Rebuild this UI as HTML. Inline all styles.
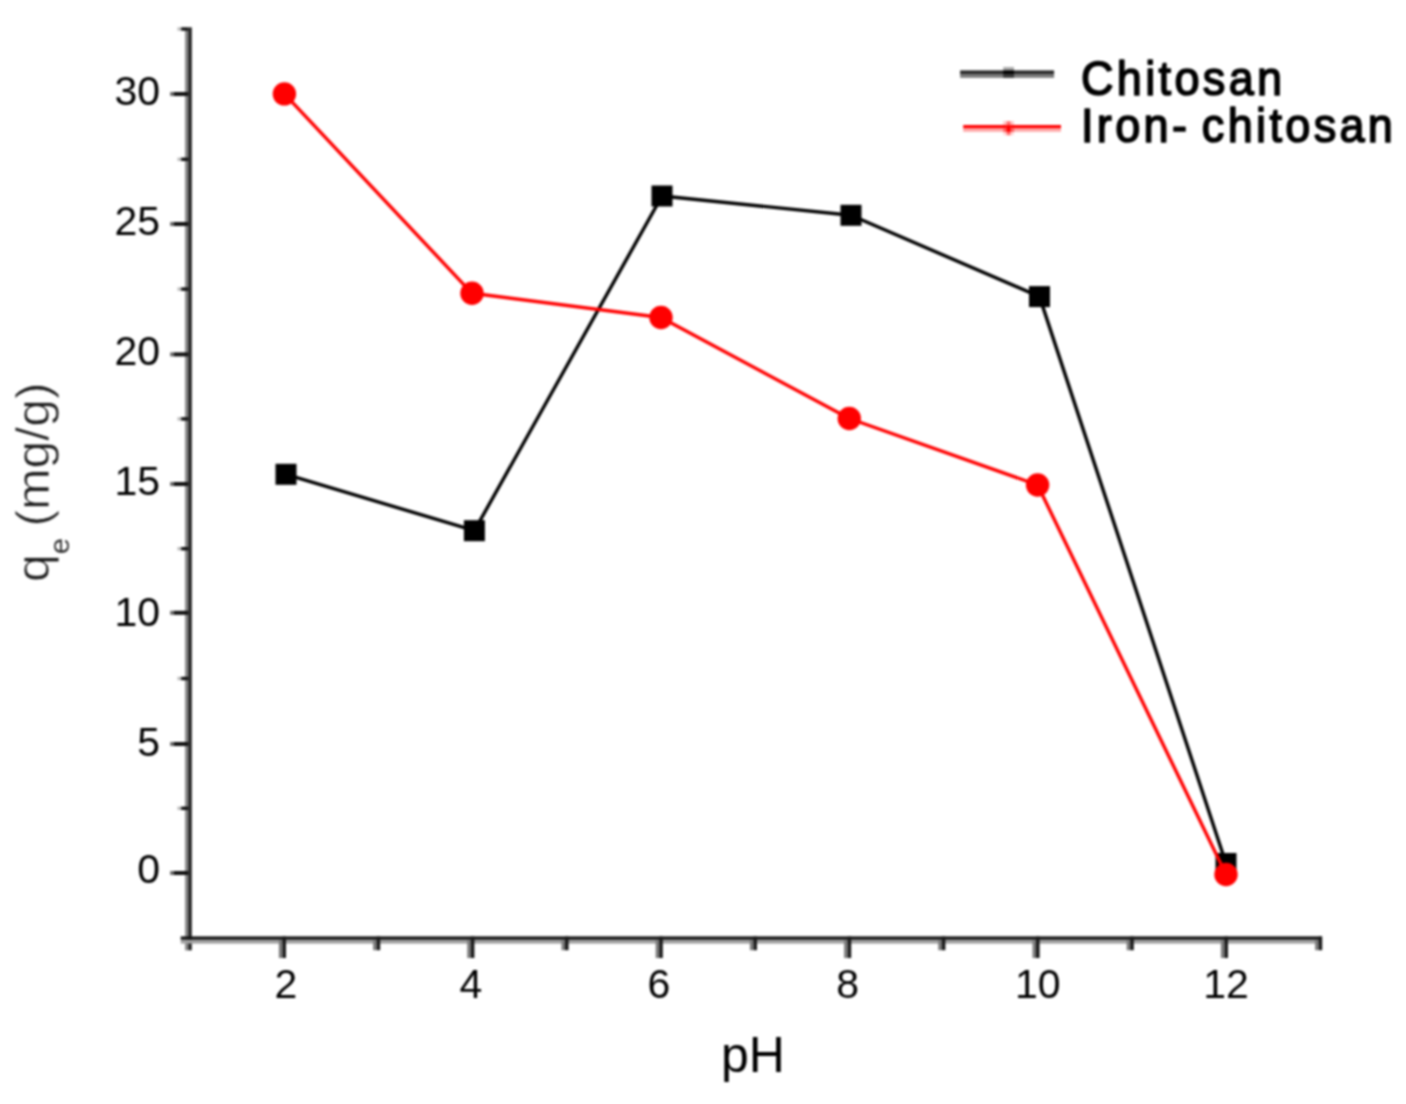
<!DOCTYPE html>
<html>
<head>
<meta charset="utf-8">
<style>
html,body{margin:0;padding:0;background:#fff;}
body{width:1406px;height:1104px;overflow:hidden;position:relative;}
svg{position:absolute;left:0;top:0;filter:blur(1px);}
text{font-family:"Liberation Sans",sans-serif;fill:#000;}
</style>
</head>
<body>
<svg width="1406" height="1104" viewBox="0 0 1406 1104">
<rect x="0" y="0" width="1406" height="1104" fill="#fff"/>

<!-- Y axis -->
<rect x="185" y="29" width="3.2" height="921.4" fill="#8a8a8a"/>
<rect x="188.2" y="27.3" width="3.6" height="923" fill="#222"/>

<!-- Y major ticks -->
<g fill="#111">
<rect x="170.2" y="92" width="3.8" height="4" fill="#666"/><rect x="174" y="92" width="14.2" height="4"/>
<rect x="170.2" y="222" width="3.8" height="4" fill="#666"/><rect x="174" y="222" width="14.2" height="4"/>
<rect x="170.2" y="352.4" width="3.8" height="4" fill="#666"/><rect x="174" y="352.4" width="14.2" height="4"/>
<rect x="170.2" y="482" width="3.8" height="4" fill="#666"/><rect x="174" y="482" width="14.2" height="4"/>
<rect x="170.2" y="610.8" width="3.8" height="4" fill="#666"/><rect x="174" y="610.8" width="14.2" height="4"/>
<rect x="170.2" y="742" width="3.8" height="4" fill="#666"/><rect x="174" y="742" width="14.2" height="4"/>
<rect x="170.2" y="871" width="3.8" height="4" fill="#666"/><rect x="174" y="871" width="14.2" height="4"/>
</g>
<!-- Y minor ticks -->
<g fill="#111">
<rect x="177.5" y="27.3" width="3.7" height="3.4" fill="#bbb"/><rect x="181.2" y="27.3" width="7" height="3.4"/>
<rect x="177.5" y="157.6" width="3.7" height="3.4" fill="#bbb"/><rect x="181.2" y="157.6" width="7" height="3.4"/>
<rect x="177.5" y="287.4" width="3.7" height="3.4" fill="#bbb"/><rect x="181.2" y="287.4" width="7" height="3.4"/>
<rect x="177.5" y="417.2" width="3.7" height="3.4" fill="#bbb"/><rect x="181.2" y="417.2" width="7" height="3.4"/>
<rect x="177.5" y="547" width="3.7" height="3.4" fill="#bbb"/><rect x="181.2" y="547" width="7" height="3.4"/>
<rect x="177.5" y="676.8" width="3.7" height="3.4" fill="#bbb"/><rect x="181.2" y="676.8" width="7" height="3.4"/>
<rect x="177.5" y="806.6" width="3.7" height="3.4" fill="#bbb"/><rect x="181.2" y="806.6" width="7" height="3.4"/>
</g>

<!-- X axis -->
<rect x="180.7" y="936.4" width="1141.3" height="3.4" fill="#111"/>
<rect x="180.7" y="939.8" width="1141.3" height="3.8" fill="#a0a0a0"/>

<!-- X ticks -->
<g id="xt">
<rect x="278.9" y="940" width="3.5" height="18.0" fill="#7a7a7a"/><rect x="282.4" y="936.4" width="3.6" height="21.6" fill="#1a1a1a"/>
<rect x="373.1" y="940" width="3.5" height="10.2" fill="#7a7a7a"/><rect x="376.6" y="936.4" width="3.6" height="13.8" fill="#1a1a1a"/>
<rect x="467.3" y="940" width="3.5" height="18.0" fill="#7a7a7a"/><rect x="470.8" y="936.4" width="3.6" height="21.6" fill="#1a1a1a"/>
<rect x="561.5" y="940" width="3.5" height="10.2" fill="#7a7a7a"/><rect x="565.0" y="936.4" width="3.6" height="13.8" fill="#1a1a1a"/>
<rect x="655.7" y="940" width="3.5" height="18.0" fill="#7a7a7a"/><rect x="659.2" y="936.4" width="3.6" height="21.6" fill="#1a1a1a"/>
<rect x="749.9" y="940" width="3.5" height="10.2" fill="#7a7a7a"/><rect x="753.4" y="936.4" width="3.6" height="13.8" fill="#1a1a1a"/>
<rect x="844.1" y="940" width="3.5" height="18.0" fill="#7a7a7a"/><rect x="847.6" y="936.4" width="3.6" height="21.6" fill="#1a1a1a"/>
<rect x="938.3" y="940" width="3.5" height="10.2" fill="#7a7a7a"/><rect x="941.8" y="936.4" width="3.6" height="13.8" fill="#1a1a1a"/>
<rect x="1032.5" y="940" width="3.5" height="18.0" fill="#7a7a7a"/><rect x="1036.0" y="936.4" width="3.6" height="21.6" fill="#1a1a1a"/>
<rect x="1126.7" y="940" width="3.5" height="10.2" fill="#7a7a7a"/><rect x="1130.2" y="936.4" width="3.6" height="13.8" fill="#1a1a1a"/>
<rect x="1220.9" y="940" width="3.5" height="18.0" fill="#7a7a7a"/><rect x="1224.4" y="936.4" width="3.6" height="21.6" fill="#1a1a1a"/>
<rect x="1315.1" y="940" width="3.5" height="10.2" fill="#7a7a7a"/><rect x="1318.6" y="936.4" width="3.6" height="13.8" fill="#1a1a1a"/>
</g>

<!-- Y labels -->
<g font-size="41" text-anchor="end">
<text x="160" y="104.6">30</text>
<text x="160" y="234.8">25</text>
<text x="160" y="365.2">20</text>
<text x="160" y="494.8">15</text>
<text x="160" y="625.7">10</text>
<text x="160" y="755.6">5</text>
<text x="160" y="883.3">0</text>
</g>

<!-- X labels -->
<g font-size="41" text-anchor="middle">
<text x="286" y="997.5">2</text>
<text x="471" y="997.5">4</text>
<text x="659" y="997.5">6</text>
<text x="847.7" y="997.5">8</text>
<text x="1037.8" y="997.5">10</text>
<text x="1226" y="997.5">12</text>
</g>

<!-- axis titles -->
<text x="753" y="1072" font-size="50" text-anchor="middle">pH</text>
<text transform="translate(48.5,582) rotate(-90) scale(1.085,1)" font-size="46" style="fill:#1e1e1e" stroke="#fff" stroke-width="0.7" paint-order="fill stroke">q<tspan font-size="27" dy="20" stroke="none" style="fill:#333">e</tspan><tspan dy="-20" dx="-2.3"> (mg/g)</tspan></text>

<!-- data lines -->
<polyline fill="none" stroke="#000" stroke-width="3.4" stroke-linejoin="round"
 points="286,474.3 474.4,530.7 662,196 851,215.3 1039.5,296.6 1226,863.5"/>
<g fill="#000">
<rect x="275.5" y="463.8" width="21" height="21"/>
<rect x="463.9" y="520.2" width="21" height="21"/>
<rect x="651.5" y="185.5" width="21" height="21"/>
<rect x="840.5" y="204.8" width="21" height="21"/>
<rect x="1029" y="286.1" width="21" height="21"/>
<rect x="1215.5" y="853" width="21" height="21"/>
</g>
<polyline fill="none" stroke="#f00" stroke-width="3.4" stroke-linejoin="round"
 points="284.4,93.9 472,293.3 661,317.5 849.3,418.5 1037.6,485 1226,874.5"/>
<g fill="#f00">
<circle cx="284.4" cy="93.9" r="11.7"/>
<circle cx="472" cy="293.3" r="11.7"/>
<circle cx="661" cy="317.5" r="11.7"/>
<circle cx="849.3" cy="418.5" r="11.7"/>
<circle cx="1037.6" cy="485" r="11.7"/>
<circle cx="1226" cy="874.5" r="11.7"/>
</g>

<!-- legend -->
<rect x="960.1" y="70.4" width="94" height="3.7" fill="#2a2a2a"/>
<rect x="960.1" y="74.1" width="94" height="3.7" fill="#777"/>
<rect x="1003.2" y="67" width="10.8" height="3.4" fill="#aaa"/>
<rect x="1003.2" y="70.4" width="10.8" height="3.7" fill="#000"/>
<rect x="1003.2" y="74.1" width="10.8" height="3.7" fill="#3a3a3a"/>
<rect x="963.2" y="125" width="97.8" height="3.5" fill="#f00"/>
<rect x="963.2" y="128.5" width="97.8" height="3.3" fill="#ffa8a8"/>
<rect x="1003.2" y="121.2" width="10.8" height="3.8" fill="#ffc8c8"/>
<rect x="1003.2" y="131.8" width="10.8" height="3.4" fill="#ffd8d8"/>
<rect x="1006.6" y="121.2" width="4" height="14" fill="#ff7070"/>
<rect x="1003.2" y="128.5" width="10.8" height="3.3" fill="#ff5a5a"/>
<rect x="1006.6" y="125" width="4" height="6.8" fill="#f00"/>
<g font-size="49" stroke="#000" stroke-width="1.7" stroke-linejoin="round">
<text transform="translate(1081,95.3) scale(0.92,1)" letter-spacing="3.6">Chitosan</text>
<text transform="translate(1081,142.3) scale(0.92,1)" letter-spacing="3.6" word-spacing="-4.6">Iron- chitosan</text>
</g>
</svg>
</body>
</html>
